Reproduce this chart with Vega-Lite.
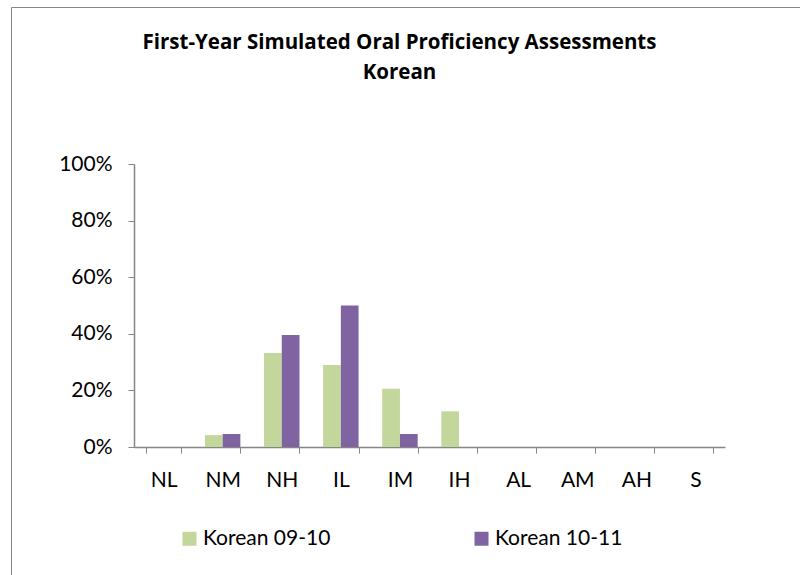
{
  "$schema": "https://vega.github.io/schema/vega-lite/v6.json",
  "autosize": {"type": "none"},
  "padding": {"left": 11, "top": 7, "right": 0, "bottom": 0},
  "width": 789,
  "height": 580,
  "background": "white",
  "config": {
    "font": "Lato",
    "view": {"stroke": "#868686", "strokeWidth": 1},
    "axis": {"grid": false, "domainColor": "#868686", "tickColor": "#868686", "tickSize": 6, "labelFont": "Lato", "labelFontSize": 21, "labelColor": "#000000", "title": null}
  },
  "title": {
    "text": ["First-Year Simulated Oral Proficiency Assessments", "Korean"],
    "font": "Open Sans",
    "fontSize": 20.5,
    "fontWeight": "bold",
    "color": "#000000",
    "lineHeight": 30,
    "anchor": "middle",
    "frame": "group",
    "dx": -6,
    "offset": -76
  },
  "data": {
    "values": [
      {"level": "NL", "series": "Korean 09-10", "value": 0},
      {"level": "NL", "series": "Korean 10-11", "value": 0},
      {"level": "NM", "series": "Korean 09-10", "value": 0.042},
      {"level": "NM", "series": "Korean 10-11", "value": 0.046},
      {"level": "NH", "series": "Korean 09-10", "value": 0.332},
      {"level": "NH", "series": "Korean 10-11", "value": 0.396},
      {"level": "IL", "series": "Korean 09-10", "value": 0.29},
      {"level": "IL", "series": "Korean 10-11", "value": 0.50},
      {"level": "IM", "series": "Korean 09-10", "value": 0.206},
      {"level": "IM", "series": "Korean 10-11", "value": 0.046},
      {"level": "IH", "series": "Korean 09-10", "value": 0.126},
      {"level": "IH", "series": "Korean 10-11", "value": 0},
      {"level": "AL", "series": "Korean 09-10", "value": 0},
      {"level": "AL", "series": "Korean 10-11", "value": 0},
      {"level": "AM", "series": "Korean 09-10", "value": 0},
      {"level": "AM", "series": "Korean 10-11", "value": 0},
      {"level": "AH", "series": "Korean 09-10", "value": 0},
      {"level": "AH", "series": "Korean 10-11", "value": 0},
      {"level": "S", "series": "Korean 09-10", "value": 0},
      {"level": "S", "series": "Korean 10-11", "value": 0}
    ]
  },
  "mark": {"type": "bar"},
  "encoding": {
    "x": {
      "field": "level",
      "type": "nominal",
      "sort": ["NL", "NM", "NH", "IL", "IM", "IH", "AL", "AM", "AH", "S"],
      "scale": {"range": [123, 714], "paddingInner": 0.4, "paddingOuter": 0.2},
      "axis": {"offset": -140, "labelAngle": 0, "tickBand": "extent", "labelPadding": 16, "domainWidth": 1.5}
    },
    "xOffset": {"field": "series", "type": "nominal"},
    "y": {
      "field": "value",
      "type": "quantitative",
      "scale": {"domain": [0, 1], "range": [440, 157]},
      "axis": {"offset": -123, "values": [0, 0.2, 0.4, 0.6, 0.8, 1], "format": ".0%", "labelPadding": 16, "domainWidth": 1.5}
    },
    "color": {
      "field": "series",
      "type": "nominal",
      "scale": {"domain": ["Korean 09-10", "Korean 10-11"], "range": ["#C3D69B", "#8064A2"]},
      "legend": {
        "title": null,
        "orient": "none",
        "legendX": 168,
        "legendY": 521,
        "direction": "horizontal",
        "symbolType": "square",
        "symbolSize": 196,
        "symbolStrokeWidth": 0,
        "labelFont": "Lato",
        "labelFontSize": 21,
        "labelColor": "#000000",
        "labelOffset": 3,
        "columnPadding": 140
      }
    }
  }
}
